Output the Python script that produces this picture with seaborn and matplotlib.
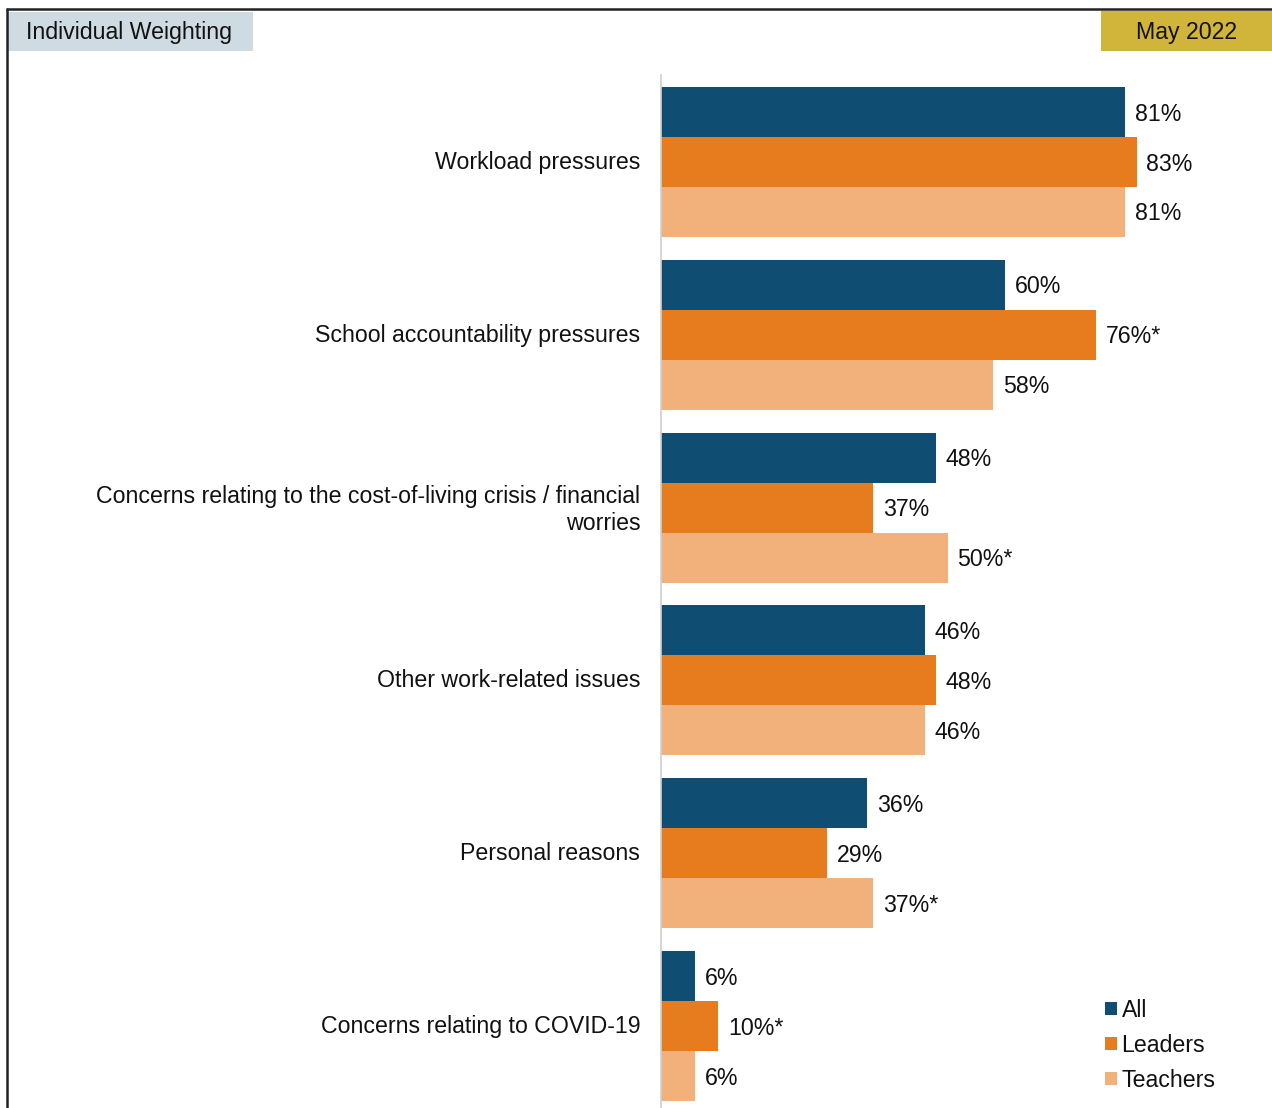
import matplotlib
matplotlib.use("Agg")
import matplotlib.pyplot as plt
import seaborn as sns
import pandas as pd
from matplotlib.lines import Line2D
from matplotlib.patches import Rectangle
from matplotlib.transforms import ScaledTranslation

categories = [
    "Workload pressures",
    "School accountability pressures",
    "Concerns relating to the cost-of-living crisis / financial\nworries",
    "Other work-related issues",
    "Personal reasons",
    "Concerns relating to COVID-19",
]
groups = ["All", "Leaders", "Teachers"]
all_vals = [81, 60, 48, 46, 36, 6]
leaders_vals = [83, 76, 37, 48, 29, 10]
teachers_vals = [81, 58, 50, 46, 37, 6]
all_labels = ["81%", "60%", "48%", "46%", "36%", "6%"]
leaders_labels = ["83%", "76%*", "37%", "48%", "29%", "10%*"]
teachers_labels = ["81%", "58%", "50%*", "46%", "37%*", "6%"]
colors = ["#0F4D72", "#E77C1F", "#F2B07A"]

rows = []
for g, vals in zip(groups, [all_vals, leaders_vals, teachers_vals]):
    for c, v in zip(categories, vals):
        rows.append({"cat": c, "group": g, "value": v})
df = pd.DataFrame(rows)

sns.set_theme(style="white")
plt.rcParams["font.family"] = ["Liberation Sans", "DejaVu Sans"]

FS = 16.7
W, H = 1272, 1108
fig = plt.figure(figsize=(W / 100, H / 100), dpi=100)
ax = fig.add_axes([661 / W, 0, (W - 661) / W, (H - 75) / H])

sns.barplot(data=df, y="cat", x="value", hue="group", order=categories,
            hue_order=groups, palette=colors, orient="h", width=0.868,
            gap=0, linewidth=0, saturation=1, ax=ax, legend=True)

for cont, labs in zip(ax.containers, [all_labels, leaders_labels, teachers_labels]):
    texts = ax.bar_label(cont, labels=labs, padding=7, fontsize=FS, color="#111111")
    for t in texts:
        x0, y0 = t.xyann
        t.xyann = (x0, y0 - 1.5)

ax.set_xlim(0, (W - 661) / 5.73)
ax.set_ylim(5.475, -0.503)
ax.set_xlabel("")
ax.set_ylabel("")
ax.set_xticks([])
ax.tick_params(axis="y", length=0, pad=15, labelsize=FS, labelcolor="#111111")
for lbl in ax.get_yticklabels():
    lbl.set_horizontalalignment("right")
    lbl.set_multialignment("right")
    lbl.set_transform(lbl.get_transform() + ScaledTranslation(0, 2 / 100, fig.dpi_scale_trans))
for s in ["top", "right", "bottom"]:
    ax.spines[s].set_visible(False)
ax.spines["left"].set_color("#D0D0D0")
ax.spines["left"].set_linewidth(1.2)

leg = ax.legend(loc="lower left", bbox_to_anchor=((1089 - 661) / (W - 661), 0.0),
                frameon=False, fontsize=FS, handlelength=0.5, handleheight=0.5,
                handletextpad=0.2, labelspacing=0.52, borderpad=0.2)
for t in leg.get_texts():
    t.set_color("#111111")

# frame lines
fig.add_artist(Line2D([7 / W, 1], [1 - 9 / H, 1 - 9 / H], color="#222222", lw=1.8))
fig.add_artist(Line2D([7 / W, 7 / W], [0, 1 - 9 / H], color="#222222", lw=1.8))

# header boxes
fig.add_artist(Rectangle((8 / W, 1 - 51 / H), (253 - 8) / W, 39 / H,
                         transform=fig.transFigure, facecolor="#CFDBE3", edgecolor="none"))
fig.text(26 / W, 1 - 33 / H, "Individual Weighting", fontsize=FS, va="center",
         ha="left", color="#111111")
fig.add_artist(Rectangle((1101 / W, 1 - 51 / H), (W - 1101) / W, 40 / H,
                         transform=fig.transFigure, facecolor="#D0B53A", edgecolor="none"))
fig.text(1187 / W, 1 - 32 / H, "May 2022", fontsize=FS, va="center",
         ha="center", color="#111111")

fig.savefig("out.png", dpi=100)
